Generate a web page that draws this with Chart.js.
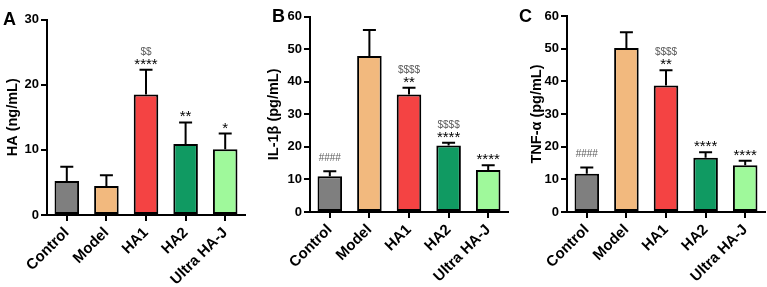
<!DOCTYPE html>
<html>
<head>
<meta charset="utf-8">
<script src="https://cdn.jsdelivr.net/npm/chart.js@4/dist/chart.umd.min.js"></script>
<style>
  html, body { margin: 0; padding: 0; background: #fff; }
  body { width: 767px; height: 287px; position: relative; overflow: hidden; font-family: 'Liberation Sans', Arial, sans-serif; }
  .panel { position: absolute; top: 0; height: 287px; }
  .letter { position: absolute; font: bold 18px 'Liberation Sans', Arial, sans-serif; color: #000; line-height: 1; }
</style>
</head>
<body>
<div class="panel" id="wrapA" style="left:0;width:255px"><canvas id="chartA"></canvas></div>
<div class="panel" id="wrapB" style="left:255px;width:255px"><canvas id="chartB"></canvas></div>
<div class="panel" id="wrapC" style="left:510px;width:257px"><canvas id="chartC"></canvas></div>
<div class="letter" style="left:3px;top:10px">A</div>
<div class="letter" style="left:272px;top:7px">B</div>
<div class="letter" style="left:519px;top:7px">C</div>
<script>
// groups and bar colours
const categories = ['Control', 'Model', 'HA1', 'HA2', 'Ultra HA-J'];
const barColors = ['#7f7f7f', '#f2b97e', '#f44343', '#109a62', '#9ff99b'];

// A: HA
const haMeans = [5.2, 4.45, 18.5, 10.9, 10.1];
const haErrors = [2.2, 1.65, 3.8, 3.3, 2.4];
const haStars = ['', '', '****', '**', '*'];
const haMarks = ['', '', '$$', '', ''];

// B: IL-1β
const il1bMeans = [11.0, 47.9, 36.1, 20.4, 12.9];
const il1bErrors = [1.5, 8.0, 2.1, 0.9, 1.5];
const il1bStars = ['', '', '**', '****', '****'];
const il1bMarks = ['####', '', '$$$$', '$$$$', ''];

// C: TNF-α
const tnfMeans = [11.7, 50.2, 38.7, 16.6, 14.3];
const tnfErrors = [1.9, 4.8, 4.7, 1.7, 1.4];
const tnfStars = ['', '', '**', '****', '****'];
const tnfMarks = ['####', '', '$$$$', '', ''];

const FONT = "'Liberation Sans', Arial, sans-serif";

// error bars (upper only) + significance labels
const errorBarPlugin = {
  id: 'errorBars',
  afterDatasetsDraw(chart) {
    const { ctx, scales } = chart;
    const meta = chart.getDatasetMeta(0);
    const ext = chart.options.plugins.errorBars;
    ctx.save();
    meta.data.forEach((bar, i) => {
      const top = scales.y.getPixelForValue(ext.means[i] + ext.errors[i]);
      ctx.strokeStyle = '#000';
      ctx.lineWidth = 2;
      ctx.beginPath();
      ctx.moveTo(bar.x, bar.y);
      ctx.lineTo(bar.x, top);
      ctx.moveTo(bar.x - 6.5, top);
      ctx.lineTo(bar.x + 6.5, top);
      ctx.stroke();

      ctx.textAlign = 'center';
      ctx.textBaseline = 'alphabetic';
      if (ext.stars[i]) {
        ctx.fillStyle = '#000';
        ctx.font = '15px ' + FONT;
        ctx.fillText(ext.stars[i], bar.x, top - 1);
      }
      if (ext.marks[i]) {
        ctx.fillStyle = '#5a5a5a';
        ctx.font = '10px ' + FONT;
        ctx.fillText(ext.marks[i], bar.x, ext.stars[i] ? top - 15 : top - 10.5);
      }
    });
    ctx.restore();
  }
};

function makeChart(id, cfg) {
  return new Chart(document.getElementById(id), {
    type: 'bar',
    data: {
      labels: categories,
      datasets: [{
        data: cfg.means,
        backgroundColor: barColors,
        borderColor: '#000',
        borderWidth: 2,
        borderSkipped: false,
        categoryPercentage: 1,
        barPercentage: 0.62
      }]
    },
    options: {
      responsive: true,
      maintainAspectRatio: false,
      animation: false,
      layout: { padding: { top: cfg.top, right: cfg.right, left: cfg.left, bottom: 0 } },
      plugins: {
        legend: { display: false },
        tooltip: { enabled: false },
        errorBars: cfg
      },
      scales: {
        x: {
          grid: { drawOnChartArea: false, offset: false, color: '#000', lineWidth: 2, tickLength: 6 },
          border: { color: '#000', width: 2 },
          ticks: {
            autoSkip: false, minRotation: 45, maxRotation: 45, padding: 3,
            color: '#000', font: { family: FONT, size: 15, weight: 'bold' }
          },
          afterFit: (s) => { s.height = cfg.xh; }
        },
        y: {
          min: 0, max: cfg.max,
          grid: { drawOnChartArea: false, color: '#000', lineWidth: 2, tickLength: 6 },
          border: { color: '#000', width: 2 },
          ticks: { stepSize: 10, padding: 2, color: '#000', font: { family: FONT, size: 13, weight: 'bold' } },
          title: { display: true, text: cfg.title, color: '#000', padding: 0, font: { family: FONT, size: 14.5, weight: 'bold' } },
          afterFit: (s) => { s.width = cfg.yw; }
        }
      }
    },
    plugins: [errorBarPlugin]
  });
}

makeChart('chartA', { means: haMeans, errors: haErrors, stars: haStars, marks: haMarks,
  max: 30, title: 'HA (ng/mL)', top: 19.5, right: 10, left: 4, xh: 72, yw: 43 });
makeChart('chartB', { means: il1bMeans, errors: il1bErrors, stars: il1bStars, marks: il1bMarks,
  max: 60, title: 'IL-1β (pg/mL)', top: 16.7, right: 2, left: 10, xh: 75, yw: 45 });
makeChart('chartC', { means: tnfMeans, errors: tnfErrors, stars: tnfStars, marks: tnfMarks,
  max: 60, title: 'TNF-α (pg/mL)', top: 16, right: 2, left: 18, xh: 75, yw: 39 });
</script>
</body>
</html>
